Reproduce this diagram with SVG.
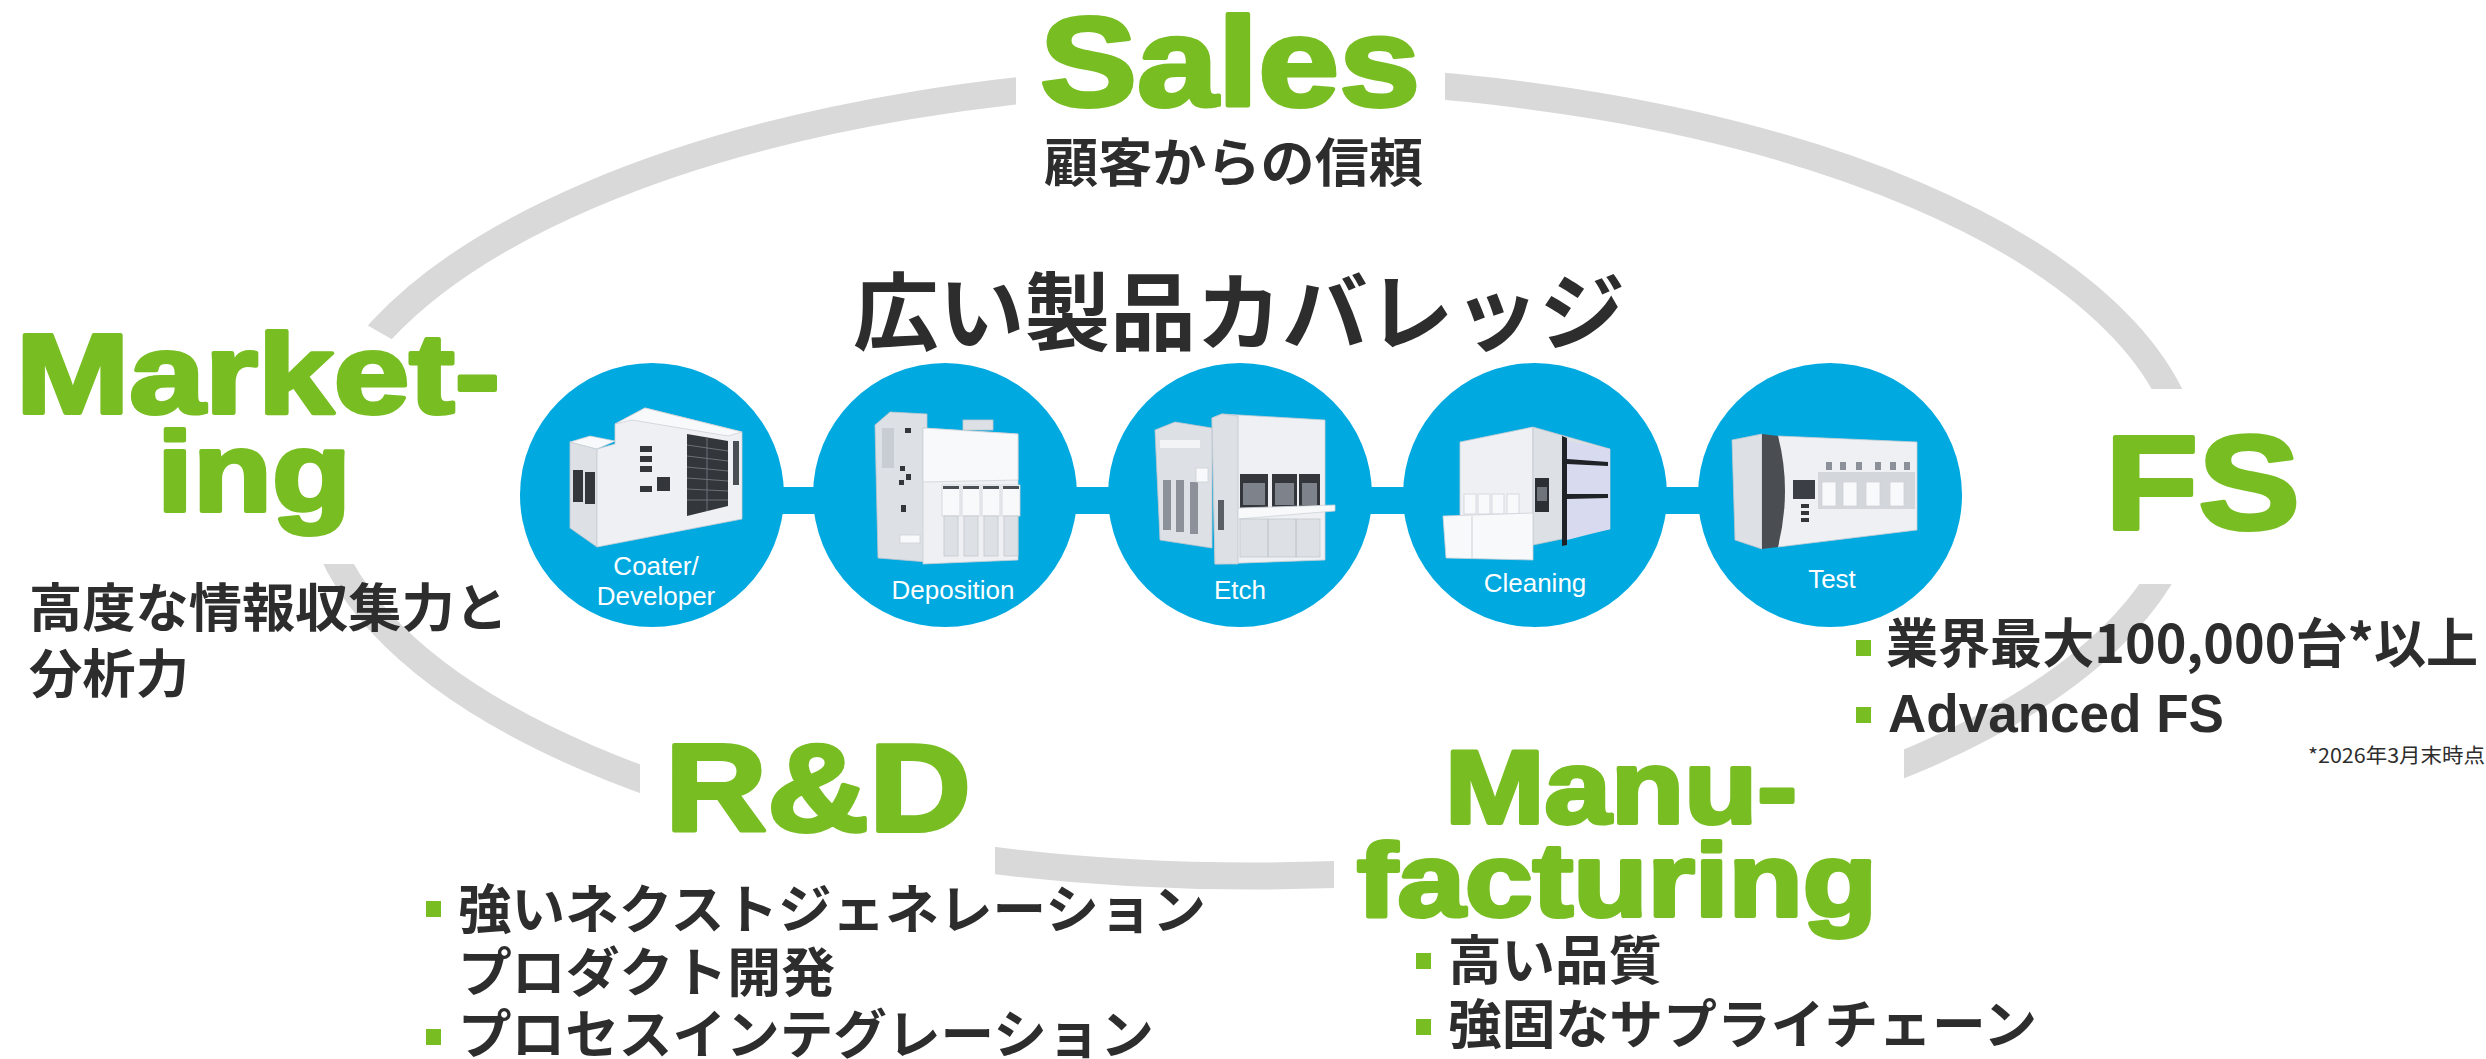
<svg xmlns="http://www.w3.org/2000/svg" width="2486" height="1059" viewBox="0 0 2486 1059">
<style>
.g{fill:#78bd22;stroke:#78bd22;stroke-width:4;stroke-linejoin:round;font-family:"Liberation Sans",Arial,sans-serif;font-weight:bold}
.jp{fill:#2d2d2d;font-family:"Noto Sans CJK JP","Liberation Sans",sans-serif;font-weight:bold}
.lat{fill:#2d2d2d;font-family:"Liberation Sans",Arial,sans-serif;font-weight:bold}
.note{fill:#2d2d2d;font-family:"Noto Sans CJK JP","Liberation Sans",sans-serif;font-size:20px}
.lbl{fill:#ffffff;font-family:"Liberation Sans",Arial,sans-serif;font-size:26px;text-anchor:middle}
.bul{fill:#78bd22}
.circ{fill:#00a9e0}
.lt{fill:#eef0f3;stroke:#c9ced4;stroke-width:0.8}
.md{fill:#dde1e6;stroke:#c2c7ce;stroke-width:0.8}
.wh{fill:#f8f9fa;stroke:#cdd2d8;stroke-width:0.8}
.dk{fill:#33363b}
.gr{fill:#8c9199}
</style>
<defs>
<mask id="ringMask" maskUnits="userSpaceOnUse" x="0" y="0" width="2486" height="1059">
<rect x="0" y="0" width="2486" height="1059" fill="#fff"/>
<rect x="1016" y="0" width="429" height="220" fill="#000"/>
<rect x="2000" y="389" width="400" height="195" fill="#000"/>
<rect x="1334" y="640" width="570" height="400" fill="#000"/>
<rect x="640" y="640" width="355" height="400" fill="#000"/>
<polygon points="150,200 480,390 480,564 150,564" fill="#000"/>
</mask>
</defs>
<rect x="0" y="0" width="2486" height="1059" fill="#ffffff"/>

<g id="connectors">
<ellipse cx="1253" cy="477" rx="937" ry="399" fill="none" stroke="#d9d9d9" stroke-width="27" mask="url(#ringMask)"/>
<rect x="650" y="487" width="1182" height="27" fill="#00a9e0"/>
</g>

<g id="node-sales">
<text class="g" x="1040" y="106" font-size="127" textLength="380" lengthAdjust="spacingAndGlyphs">Sales</text>
<text class="jp" x="1044" y="182" font-size="52" textLength="379" lengthAdjust="spacingAndGlyphs">顧客からの信頼</text>
</g>

<g id="node-title">
<text class="jp" x="853" y="344" font-size="85" textLength="772" lengthAdjust="spacingAndGlyphs">広い製品カバレッジ</text>
</g>

<g id="node-marketing">
<text class="g" x="16" y="413" font-size="113" textLength="484" lengthAdjust="spacingAndGlyphs">Market-</text>
<text class="g" x="157" y="511" font-size="113" textLength="194" lengthAdjust="spacingAndGlyphs">ing</text>
<text class="jp" x="29" y="627" font-size="52" textLength="479" lengthAdjust="spacingAndGlyphs">高度な情報収集力と</text>
<text class="jp" x="29" y="693" font-size="52" textLength="160" lengthAdjust="spacingAndGlyphs">分析力</text>
</g>

<g id="node-rd">
<text class="g" x="665" y="831" font-size="124" textLength="306" lengthAdjust="spacingAndGlyphs">R&amp;D</text>
<rect class="bul" x="426" y="901" width="15" height="16"/>
<text class="jp" x="458" y="929" font-size="53" textLength="748" lengthAdjust="spacingAndGlyphs">強いネクストジェネレーション</text>
<text class="jp" x="458" y="992" font-size="53" textLength="377" lengthAdjust="spacingAndGlyphs">プロダクト開発</text>
<rect class="bul" x="426" y="1029" width="15" height="16"/>
<text class="jp" x="458" y="1054" font-size="53" textLength="696" lengthAdjust="spacingAndGlyphs">プロセスインテグレーション</text>
</g>

<g id="node-manufacturing">
<text class="g" x="1445" y="823" font-size="104" textLength="352" lengthAdjust="spacingAndGlyphs">Manu-</text>
<text class="g" x="1357" y="916" font-size="104" textLength="520" lengthAdjust="spacingAndGlyphs">facturing</text>
<rect class="bul" x="1416" y="953" width="15" height="16"/>
<text class="jp" x="1448" y="980" font-size="53" textLength="214" lengthAdjust="spacingAndGlyphs">高い品質</text>
<rect class="bul" x="1416" y="1019" width="15" height="16"/>
<text class="jp" x="1448" y="1044" font-size="53" textLength="589" lengthAdjust="spacingAndGlyphs">強固なサプライチェーン</text>
</g>

<g id="node-fs">
<text class="g" x="2105" y="529" font-size="134" textLength="195" lengthAdjust="spacingAndGlyphs">FS</text>
<rect class="bul" x="1856" y="640" width="15" height="16"/>
<text class="jp" x="1886" y="663" font-size="53" textLength="592" lengthAdjust="spacingAndGlyphs">業界最大100,000台*以上</text>
<rect class="bul" x="1856" y="707" width="15" height="16"/>
<text class="lat" x="1888" y="732" font-size="53" textLength="336" lengthAdjust="spacingAndGlyphs">Advanced FS</text>
<text class="note" x="2308" y="763" textLength="177" lengthAdjust="spacingAndGlyphs">*2026年3月末時点</text>
</g>

<g id="node-coater">
<circle class="circ" cx="652" cy="495" r="132"/>
<polygon class="md" points="570,442 597,449 597,547 570,528"/>
<polygon class="wh" points="570,442 590,436 615,441 597,449"/>
<polygon class="lt" points="597,449 615,444 615,424 645,408 742,432 742,519 597,547"/>
<polygon class="wh" points="615,424 645,408 742,432 728,436 632,420"/>
<polygon class="dk" points="687,434 728,441 728,506 687,516"/>
<g stroke="#6d727a" stroke-width="1"><line x1="687" y1="445" x2="728" y2="451"/><line x1="687" y1="456" x2="728" y2="461"/><line x1="687" y1="467" x2="728" y2="471"/><line x1="687" y1="478" x2="728" y2="481"/><line x1="687" y1="489" x2="728" y2="491"/><line x1="687" y1="500" x2="728" y2="500"/><line x1="707" y1="437" x2="707" y2="511"/></g>
<rect class="dk" x="573" y="470" width="10" height="32"/>
<rect class="dk" x="585" y="472" width="10" height="32"/>
<rect class="dk" x="640" y="446" width="12" height="6"/>
<rect class="dk" x="640" y="456" width="12" height="6"/>
<rect class="dk" x="640" y="466" width="12" height="6"/>
<rect class="dk" x="640" y="486" width="12" height="6"/>
<rect class="dk" x="657" y="477" width="13" height="14"/>
<rect x="733" y="441" width="6" height="44" fill="#4a4e55"/>
<text class="lbl" x="656" y="575">Coater/</text>
<text class="lbl" x="656" y="605">Developer</text>
</g>

<g id="node-deposition">
<circle class="circ" cx="945" cy="495" r="132"/>
<polygon class="md" points="875,425 890,412 927,414 927,562 878,558"/>
<rect x="882" y="428" width="12" height="40" fill="#c8cdd3"/>
<rect class="dk" x="900" y="466" width="5" height="5"/>
<rect class="dk" x="906" y="474" width="5" height="6"/>
<rect class="dk" x="899" y="480" width="5" height="5"/>
<rect class="dk" x="901" y="505" width="5" height="7"/>
<rect class="dk" x="905" y="428" width="6" height="5"/>
<polygon class="lt" points="923,428 1018,434 1018,560 923,564"/>
<polygon class="wh" points="923,428 1018,434 1018,480 923,482"/>
<rect class="md" x="963" y="420" width="30" height="10"/>
<rect class="wh" x="942" y="485" width="18" height="31"/>
<rect class="wh" x="962" y="485" width="18" height="31"/>
<rect class="wh" x="982" y="485" width="18" height="31"/>
<rect class="wh" x="1002" y="485" width="18" height="31"/>
<rect x="943" y="486" width="16" height="3" fill="#4a4e55"/>
<rect x="963" y="486" width="16" height="3" fill="#4a4e55"/>
<rect x="983" y="486" width="16" height="3" fill="#4a4e55"/>
<rect x="1003" y="486" width="16" height="3" fill="#4a4e55"/>
<rect class="md" x="944" y="516" width="14" height="40"/>
<rect class="md" x="964" y="516" width="14" height="40"/>
<rect class="md" x="984" y="516" width="14" height="40"/>
<rect class="md" x="1004" y="516" width="14" height="40"/>
<rect class="wh" x="900" y="535" width="20" height="8"/>
<text class="lbl" x="953" y="599">Deposition</text>
</g>

<g id="node-etch">
<circle class="circ" cx="1240" cy="495" r="132"/>
<polygon class="md" points="1155,430 1175,422 1212,428 1212,548 1160,540"/>
<rect x="1160" y="440" width="40" height="8" fill="#f3f4f6"/>
<rect class="gr" x="1163" y="480" width="8" height="50"/>
<rect class="gr" x="1176" y="480" width="8" height="52"/>
<rect class="gr" x="1190" y="482" width="8" height="52"/>
<rect class="wh" x="1196" y="468" width="12" height="14"/>
<polygon class="lt" points="1212,418 1222,414 1325,420 1325,560 1215,564"/>
<polygon class="md" points="1212,418 1222,414 1238,416 1238,564 1215,564"/>
<rect x="1218" y="500" width="6" height="30" fill="#5a5f66"/>
<rect class="dk" x="1240" y="474" width="28" height="34"/>
<rect class="dk" x="1272" y="474" width="25" height="34"/>
<rect class="dk" x="1299" y="474" width="21" height="34"/>
<rect x="1243" y="483" width="22" height="22" fill="#7e838b"/>
<rect x="1275" y="483" width="19" height="22" fill="#7e838b"/>
<rect x="1302" y="483" width="15" height="22" fill="#7e838b"/>
<polygon class="wh" points="1238,508 1335,505 1335,511 1238,519"/>
<rect class="md" x="1240" y="519" width="80" height="38"/>
<line x1="1268" y1="519" x2="1268" y2="557" stroke="#b8bec5"/>
<line x1="1296" y1="519" x2="1296" y2="557" stroke="#b8bec5"/>
<text class="lbl" x="1240" y="599">Etch</text>
</g>

<g id="node-cleaning">
<circle class="circ" cx="1535" cy="495" r="132"/>
<polygon class="lt" points="1460,442 1533,427 1533,545 1460,535"/>
<polygon class="md" points="1533,427 1610,449 1610,529 1533,545"/>
<polygon points="1567,441 1610,449 1610,529 1567,540" fill="#d8dbf0"/>
<polygon points="1562,436 1567,438 1567,545 1562,546" fill="#1f2226"/>
<polygon points="1567,459 1608,462 1608,466 1567,464" fill="#1f2226"/>
<polygon points="1567,494 1608,494 1608,498 1567,499" fill="#1f2226"/>
<rect x="1535" y="478" width="14" height="34" fill="#2c2f34"/>
<rect x="1537" y="487" width="10" height="14" fill="#6f747b"/>
<rect class="wh" x="1464" y="494" width="12" height="20"/>
<rect class="wh" x="1478" y="494" width="12" height="20"/>
<rect class="wh" x="1492" y="494" width="12" height="20"/>
<rect class="wh" x="1507" y="494" width="12" height="20"/>
<polygon class="wh" points="1443,516 1533,513 1533,560 1446,558"/>
<line x1="1472" y1="516" x2="1472" y2="559" stroke="#cdd2d8"/>
<text class="lbl" x="1535" y="592">Cleaning</text>
</g>

<g id="node-test">
<circle class="circ" cx="1830" cy="495" r="132"/>
<polygon class="md" points="1732,440 1762,434 1762,549 1735,540"/>
<polygon class="lt" points="1778,436 1917,442 1917,530 1778,547"/>
<path d="M1762,434 L1778,436 Q1792,490 1778,547 L1762,549 Z" fill="#4a4d52"/>
<rect x="1818" y="472" width="97" height="37" fill="#d3d7dc"/>
<rect class="wh" x="1822" y="482" width="14" height="24"/>
<rect class="wh" x="1843" y="482" width="14" height="24"/>
<rect class="wh" x="1866" y="482" width="14" height="24"/>
<rect class="wh" x="1890" y="482" width="14" height="24"/>
<rect class="gr" x="1826" y="462" width="6" height="8"/>
<rect class="gr" x="1840" y="462" width="6" height="8"/>
<rect class="gr" x="1856" y="462" width="6" height="8"/>
<rect class="gr" x="1875" y="462" width="6" height="8"/>
<rect class="gr" x="1890" y="462" width="6" height="8"/>
<rect class="gr" x="1904" y="462" width="6" height="8"/>
<rect x="1793" y="480" width="22" height="19" fill="#3b3f45"/>
<rect class="dk" x="1801" y="504" width="8" height="4"/>
<rect class="dk" x="1801" y="511" width="8" height="4"/>
<rect class="dk" x="1801" y="518" width="8" height="4"/>
<text class="lbl" x="1832" y="588">Test</text>
</g>
</svg>
